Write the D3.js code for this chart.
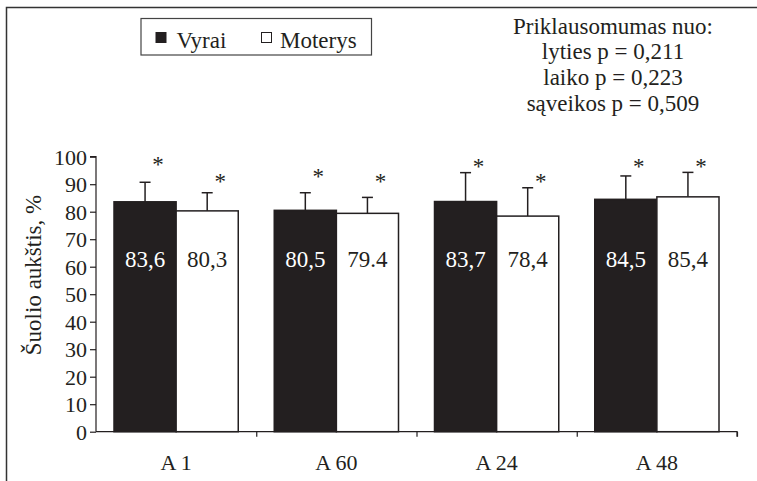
<!DOCTYPE html>
<html><head><meta charset="utf-8">
<script src="https://cdn.jsdelivr.net/npm/d3@7"></script>
<style>html,body{margin:0;padding:0;background:#fff;}svg{display:block;}</style>
</head><body><svg id="c" width="757" height="481"></svg>
<script>
const categories = ["A 1", "A 60", "A 24", "A 48"];
const seriesNames = ["Vyrai", "Moterys"];
const vyraiMeans = [83.6, 80.5, 83.7, 84.5];
const moterysMeans = [80.3, 79.4, 78.4, 85.4];
const vyraiSD = [7.1, 6.4, 10.5, 8.5];
const moterysSD = [6.6, 5.8, 10.3, 8.9];
const vyraiLabels = ["83,6", "80,5", "83,7", "84,5"];
const moterysLabels = ["80,3", "79.4", "78,4", "85,4"];
const vyraiStarAt = [98.5, 94.1, 97.7, 97.7];
const moterysStarAt = [92.1, 92.3, 92.3, 97.7];
const yTicks = [0,10,20,30,40,50,60,70,80,90,100];
const yTitle = "Šuolio aukštis, %";
const noteLines = ["Priklausomumas nuo:", "lyties p = 0,211", "laiko p = 0,223", "sąveikos p = 0,509"];

const FONT = "Liberation Serif";
const dark = "#231f20";
const svg = d3.select("#c").style("font-family", FONT);

// outer frame (top and left)
svg.append("path").attr("d","M6.5,481 V7.5 H757").attr("fill","none").attr("stroke","#333").attr("stroke-width",1.5);

const x = d3.scaleBand().domain(categories).range([96, 737]).paddingInner(0).paddingOuter(0);
const xs = d3.scaleBand().domain(seriesNames).range([18, x.bandwidth()-18]).padding(0);
const y = d3.scaleLinear().domain([0,100]).range([431.7, 156.7]);

const rows = [];
categories.forEach((c,i)=>{
  rows.push({cat:c, s:"Vyrai", m:vyraiMeans[i], sd:vyraiSD[i], lab:vyraiLabels[i], star:vyraiStarAt[i]});
  rows.push({cat:c, s:"Moterys", m:moterysMeans[i], sd:moterysSD[i], lab:moterysLabels[i], star:moterysStarAt[i]});
});
const bx = d => x(d.cat) + xs(d.s);
const cx = d => bx(d) + xs.bandwidth()/2;

// error bars
const eb = svg.append("g").attr("stroke", dark).attr("stroke-width",1.5);
rows.forEach(d=>{
  eb.append("line").attr("x1",cx(d)).attr("x2",cx(d)).attr("y1",y(d.m)).attr("y2",y(d.m+d.sd));
  eb.append("line").attr("x1",cx(d)-5.5).attr("x2",cx(d)+5.5).attr("y1",y(d.m+d.sd)).attr("y2",y(d.m+d.sd));
});

// bars
svg.append("g").selectAll("rect").data(rows).join("rect")
  .attr("x", bx).attr("width", xs.bandwidth())
  .attr("y", d=>y(d.m)).attr("height", d=>y(0)-y(d.m))
  .attr("fill", d=>d.s==="Vyrai"?dark:"#fff")
  .attr("stroke", dark).attr("stroke-width",1.5);

// value labels
svg.append("g").selectAll("text").data(rows).join("text")
  .attr("x", cx).attr("y", y(60)+0.5)
  .attr("text-anchor","middle").attr("font-size",23).style("font-family",FONT)
  .attr("fill", d=>d.s==="Vyrai"?"#fff":dark)
  .text(d=>d.lab);

// significance stars
svg.append("g").selectAll("text").data(rows).join("text")
  .attr("x", d=>cx(d)+13).attr("y", d=>y(d.star)+11)
  .attr("text-anchor","middle").attr("font-size",23).style("font-family",FONT).attr("fill",dark)
  .text("*");

// y axis
const ya = svg.append("g").attr("transform","translate(96,0)")
  .call(d3.axisLeft(y).tickValues(yTicks).tickSize(6).tickPadding(3).tickFormat(d3.format("d")));
ya.attr("font-family", null);
ya.select(".domain").attr("stroke",dark).attr("stroke-width",1.2).attr("d", `M-6,${y(100)}H0V${y(0)}`);
ya.selectAll(".tick line").attr("stroke",dark).attr("stroke-width",1.2);
ya.selectAll(".tick text").attr("font-size",22).style("font-family",FONT).attr("fill",dark).attr("dy","0.34em");

// x axis
const xi = d3.scaleLinear().domain([0, categories.length]).range([96, 737]);
const xa = svg.append("g").attr("transform",`translate(0,${y(0)})`)
  .call(d3.axisBottom(xi).tickValues(d3.range(0, categories.length+1)).tickSize(5).tickFormat(""));
xa.select(".domain").attr("stroke",dark).attr("stroke-width",1.2).attr("d","M96,0H737V5");
xa.selectAll(".tick line").attr("stroke",dark).attr("stroke-width",1.2);
xa.selectAll(".tick").filter(d=>d===0).remove();
svg.append("g").selectAll("text").data(categories).join("text")
  .attr("x", d=>x(d)+x.bandwidth()/2).attr("y", 470)
  .attr("text-anchor","middle").attr("font-size",22).style("font-family",FONT).attr("fill",dark).text(d=>d);

// y title
svg.append("text").attr("transform","translate(41,275) rotate(-90)")
  .attr("text-anchor","middle").attr("font-size",23).style("font-family",FONT).attr("fill",dark).text(yTitle);

// legend
const lg = svg.append("g");
lg.append("rect").attr("x",141).attr("y",18.5).attr("width",230.5).attr("height",36.5)
  .attr("fill","#fff").attr("stroke","#444").attr("stroke-width",1.2);
const lx = [156, 261.5], tx = [176.5, 280];
seriesNames.forEach((s,i)=>{
  lg.append("rect").attr("x",lx[i]).attr("y",32.5).attr("width",10).attr("height",10)
    .attr("fill", i===0?dark:"#fff").attr("stroke",dark).attr("stroke-width",1);
  lg.append("text").attr("x",tx[i]).attr("y",48).attr("font-size",23).style("font-family",FONT).attr("fill",dark).text(s);
});

// note
svg.append("g").selectAll("text").data(noteLines).join("text")
  .attr("x",613).attr("y",(d,i)=>33.5+i*25.9)
  .attr("text-anchor","middle").attr("font-size",23).style("font-family",FONT).attr("fill",dark).text(d=>d);
</script></body></html>
